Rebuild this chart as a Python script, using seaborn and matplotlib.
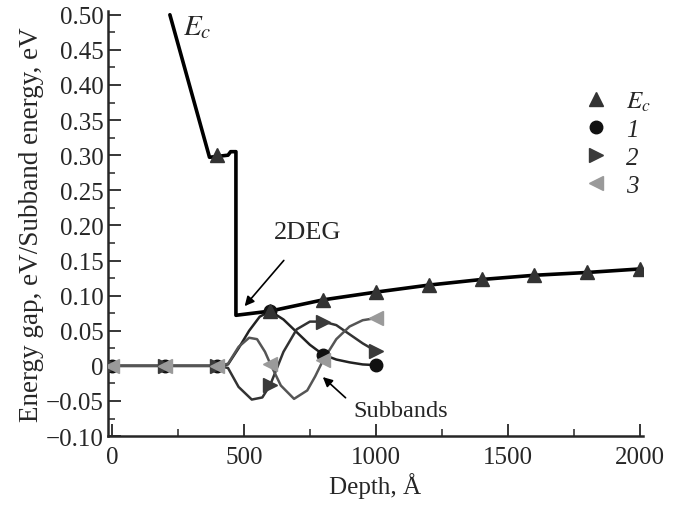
import matplotlib
matplotlib.use("Agg")
import matplotlib.pyplot as plt
import seaborn as sns
import pandas as pd
from matplotlib.lines import Line2D
from matplotlib.ticker import MultipleLocator, FuncFormatter

# conduction band edge (line) and its markers
ec_line_depth = [220, 370, 440, 450, 470, 470, 600, 800, 1000, 1200, 1400, 1600, 1800, 2000]
ec_line_energy = [0.50, 0.297, 0.300, 0.305, 0.305, 0.072, 0.078, 0.094, 0.105, 0.115, 0.123, 0.129, 0.133, 0.138]
ec_mark_depth = [400, 600, 800, 1000, 1200, 1400, 1600, 1800, 2000]
ec_mark_energy = [0.300, 0.078, 0.094, 0.105, 0.115, 0.123, 0.129, 0.133, 0.138]

# subbands
sub1_depth = [0, 200, 400, 440, 480, 520, 560, 600, 650, 700, 750, 800, 850, 900, 950, 1000]
sub1_energy = [0, 0, 0, 0.002, 0.025, 0.050, 0.070, 0.078, 0.066, 0.048, 0.030, 0.016, 0.009, 0.005, 0.002, 0.001]
sub2_depth = [0, 200, 400, 440, 480, 530, 570, 600, 650, 700, 750, 800, 850, 900, 950, 1000]
sub2_energy = [0, 0, 0, -0.003, -0.030, -0.048, -0.045, -0.027, 0.020, 0.052, 0.063, 0.063, 0.058, 0.045, 0.032, 0.021]
sub3_depth = [0, 200, 400, 440, 480, 520, 550, 580, 600, 640, 690, 740, 770, 800, 850, 900, 950, 1000]
sub3_energy = [0, 0, 0, 0.003, 0.027, 0.040, 0.038, 0.020, 0.003, -0.028, -0.047, -0.035, -0.015, 0.008, 0.038, 0.056, 0.065, 0.068]
sub_mark_depth = [0, 200, 400, 600, 800, 1000]

sns.set_style("ticks")
plt.rcParams["font.family"] = ["Liberation Serif", "DejaVu Serif"]
plt.rcParams["mathtext.fontset"] = "stix"

fig = plt.figure(figsize=(6.78, 5.10), dpi=100)
ax = fig.add_axes([0.159, 0.143, 0.789, 0.833])

sub_styles = [
    (sub1_depth, sub1_energy, "o", "#111111", "#222222", 9),
    (sub2_depth, sub2_energy, ">", "#3a3a3a", "#333333", 10),
    (sub3_depth, sub3_energy, "<", "#9a9a9a", "#555555", 10),
]
for depth, energy, mk, mcol, lcol, ms in sub_styles:
    df = pd.DataFrame({"depth": depth, "energy": energy})
    sns.lineplot(data=df, x="depth", y="energy", ax=ax, color=lcol, lw=1.8,
                 estimator=None, sort=False)
    marks = df[df["depth"].isin(sub_mark_depth)]
    ax.plot(marks["depth"], marks["energy"], ls="none", marker=mk, ms=ms,
            color=mcol, mec=mcol, zorder=4)

ec_df = pd.DataFrame({"depth": ec_line_depth, "energy": ec_line_energy})
sns.lineplot(data=ec_df, x="depth", y="energy", ax=ax, color="black", lw=2.6,
             estimator=None, sort=False)
ax.plot(ec_mark_depth, ec_mark_energy, ls="none", marker="^", ms=10.5,
        color="#333333", zorder=5)

ax.set_xlim(-15, 2010)
ax.set_ylim(-0.10, 0.505)
ax.xaxis.set_major_locator(MultipleLocator(500))
ax.xaxis.set_minor_locator(MultipleLocator(250))
ax.yaxis.set_major_locator(MultipleLocator(0.05))
ax.yaxis.set_minor_locator(MultipleLocator(0.025))


def yfmt(v, pos):
    if abs(v) < 1e-9:
        return "0"
    return f"{v:.2f}".replace("-", "\u2212")


ax.yaxis.set_major_formatter(FuncFormatter(yfmt))
ax.xaxis.set_major_formatter(FuncFormatter(lambda v, p: f"{v:.0f}"))
ax.tick_params(which="major", direction="in", length=9, width=1.3, labelsize=18, pad=3)
ax.tick_params(axis="x", which="major", pad=7)
ax.tick_params(which="minor", direction="in", length=5, width=1.1)
sns.despine(ax=ax)
for s in ["left", "bottom"]:
    ax.spines[s].set_linewidth(1.8)

ax.set_xlabel("Depth, Å", fontsize=18, labelpad=3)
ax.set_ylabel("Energy gap, eV/Subband energy, eV", fontsize=19.5, labelpad=1)

ax.text(268, 0.483, "$E_c$", fontsize=21, ha="left", va="center")
ax.annotate("2DEG", xy=(503, 0.085), xytext=(742, 0.19), fontsize=19,
            ha="center", va="center",
            arrowprops=dict(arrowstyle="-|>", color="black", lw=1.2,
                            shrinkA=13, shrinkB=0, mutation_scale=14))
ax.annotate("Subbands", xy=(799, -0.016), xytext=(913, -0.064), fontsize=17.5,
            ha="left", va="center",
            arrowprops=dict(arrowstyle="-|>", color="black", lw=1.2,
                            shrinkA=4, shrinkB=0, mutation_scale=14,
                            relpos=(0, 0.8)))

handles = [
    Line2D([], [], ls="none", marker="^", ms=10.5, color="#333333"),
    Line2D([], [], ls="none", marker="o", ms=9, color="#111111"),
    Line2D([], [], ls="none", marker=">", ms=10, color="#3a3a3a"),
    Line2D([], [], ls="none", marker="<", ms=10, color="#9a9a9a"),
]
labels = ["$E_c$", "1", "2", "3"]
ax.legend(handles, labels, loc="upper left", bbox_to_anchor=(0.89, 0.815),
          frameon=False, prop={"size": 18, "style": "italic"},
          handlelength=1.0, handletextpad=0.7, labelspacing=0.22,
          borderaxespad=0, borderpad=0)

fig.savefig("out.png", dpi=100)
